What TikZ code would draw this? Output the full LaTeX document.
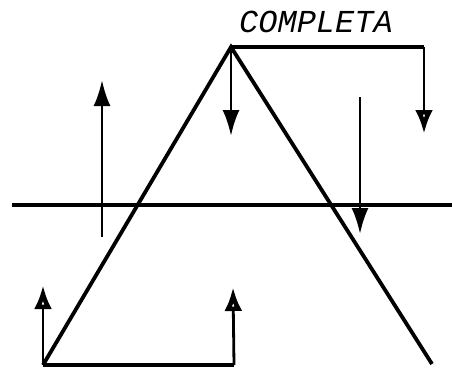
\documentclass[tikz,border=0pt]{standalone}
\usepackage{fontspec}
\newfontfamily\lblfont{Liberation Mono}
\usetikzlibrary{arrows.meta}
\begin{document}
\begin{tikzpicture}[x=1pt,y=-1pt,
  ln/.style={line width=3.8pt},
  arr/.style={line width=2.8pt,-{Latex[length=26pt,width=17pt]}},
  oarr/.style={line width=2.8pt,-{Latex[open,length=24pt,width=18pt,line width=4.5pt]}}]
\useasboundingbox (0,0) rectangle (452,368);
\coordinate (apex) at (231,47);
\coordinate (bl) at (43,365);
\coordinate (bm) at (234,365);
\coordinate (br) at (432,364);
\coordinate (hl) at (12,205);
\coordinate (hr) at (452,205);
\coordinate (tr) at (424,47);
\draw[ln] (hl) -- (hr);
\draw[ln] (bl) -- (apex) -- (br);
\draw[ln] (bl) -- (bm);
\draw[ln] (apex) -- (tr);
\draw[oarr] (tr) -- (424,134);
\draw[arr] (apex) -- (231,136);
\coordinate (a1) at (102,237);
\draw[arr] (a1) -- (102,80);
\coordinate (a2) at (360,97);
\draw[arr] (a2) -- (360,234);
\draw[oarr] (bl) -- (43,285);
\draw[oarr] (bm) -- (233,287);
\node[font=\lblfont\itshape\fontsize{32}{32}\selectfont, inner sep=0pt] (lbl) at (316,22) {COMPLETA};
\end{tikzpicture}
\end{document}
